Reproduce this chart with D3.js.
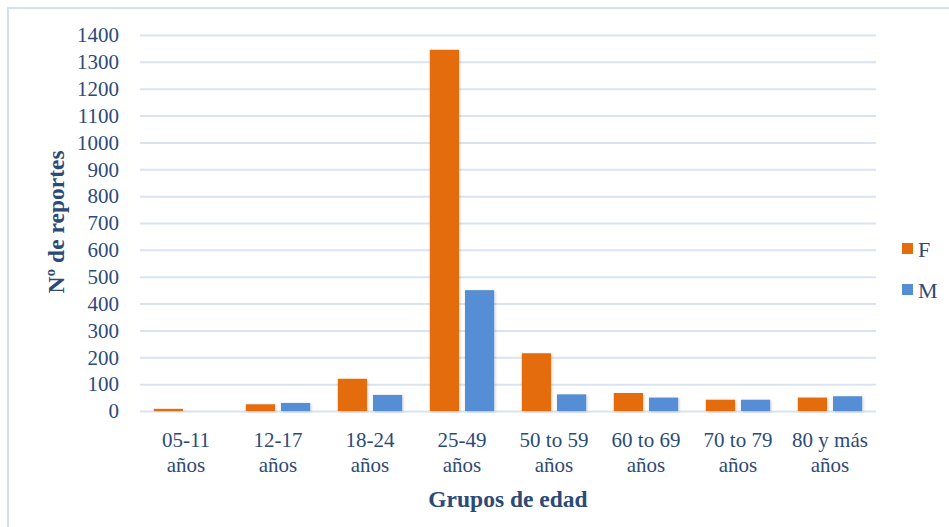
<!DOCTYPE html>
<html>
<head>
<meta charset="utf-8">
<script src="https://cdn.jsdelivr.net/npm/d3@7"></script>
<style>
  html, body { margin: 0; padding: 0; background: #fff; }
  svg { display: block; }
  text { font-family: "Liberation Serif", "DejaVu Serif", serif; fill: #2C4A78; }
</style>
</head>
<body>
<svg id="chart" width="949" height="527"></svg>
<script>
const categories = ["05-11 años", "12-17 años", "18-24 años", "25-49 años", "50 to 59 años", "60 to 69 años", "70 to 79 años", "80 y más años"];
const categoryLines = [["05-11", "años"], ["12-17", "años"], ["18-24", "años"], ["25-49", "años"], ["50 to 59", "años"], ["60 to 69", "años"], ["70 to 79", "años"], ["80 y más", "años"]];
const seriesNames = ["F", "M"];
const valuesF = [8, 25, 120, 1345, 215, 67, 42, 50];
const valuesM = [0, 30, 60, 450, 62, 50, 42, 55];
const yTicks = [0, 100, 200, 300, 400, 500, 600, 700, 800, 900, 1000, 1100, 1200, 1300, 1400];
const colors = { F: "#E46C0A", M: "#558ED5" };

(function () {
const svg = d3.select("#chart");
const W = 949, H = 527;
const mLeft = 140, mRight = 876, mTop = 35, mBottom = 411;

// outer border
svg.append("rect").attr("x", 8).attr("y", 8).attr("width", W + 20).attr("height", H + 20)
  .attr("fill", "none").attr("stroke", "#D3E0F1").attr("stroke-width", 2);

const x0 = d3.scaleBand().domain(categories).range([mLeft, mRight]).paddingInner(0.3).paddingOuter(0.15);
const x1 = d3.scaleBand().domain(seriesNames).range([0, x0.bandwidth()]).paddingInner(0.17);
const y = d3.scaleLinear().domain([0, 1400]).range([mBottom, mTop]);

// gridlines
const yAxis = d3.axisLeft(y).tickValues(yTicks).tickSize(-(mRight - mLeft)).tickPadding(21).tickFormat(d3.format("d"));
const gy = svg.append("g").attr("transform", `translate(${mLeft},0)`).call(yAxis);
gy.select(".domain").remove();
gy.selectAll(".tick line").attr("stroke", "#DAE4F1").attr("stroke-width", 2);
gy.selectAll(".tick text").attr("font-size", 21).attr("fill", "#2C4A78")
  .style("font-family", '"Liberation Serif", serif');

// shadow filter
const defs = svg.append("defs");
const f = defs.append("filter").attr("id", "sh").attr("x", "-20%").attr("y", "-20%").attr("width", "150%").attr("height", "150%");
f.append("feDropShadow").attr("dx", 1).attr("dy", 1).attr("stdDeviation", 1.5).attr("flood-color", "#000").attr("flood-opacity", 0.18);

const data = categories.map((c, i) => ({ cat: c, F: valuesF[i], M: valuesM[i] }));
const groups = svg.append("g").selectAll("g").data(data).join("g")
  .attr("transform", d => `translate(${x0(d.cat)},0)`);
groups.selectAll("rect").data(d => seriesNames.map(k => ({ key: k, value: d[k] }))).join("rect")
  .attr("x", d => x1(d.key))
  .attr("y", d => y(d.value))
  .attr("width", x1.bandwidth())
  .attr("height", d => mBottom - y(d.value))
  .attr("fill", d => colors[d.key])
  .attr("filter", "url(#sh)");

// x labels
const xl = svg.append("g");
categories.forEach((c, i) => {
  const cx = x0(c) + x0.bandwidth() / 2;
  const t = xl.append("text").attr("x", cx).attr("y", 447).attr("text-anchor", "middle").attr("font-size", 21);
  t.append("tspan").attr("x", cx).text(categoryLines[i][0]);
  t.append("tspan").attr("x", cx).attr("dy", 25).text(categoryLines[i][1]);
});

// axis titles
svg.append("text").attr("x", (mLeft + mRight) / 2 + 0).attr("y", 507).attr("text-anchor", "middle")
  .attr("font-size", 23.5).attr("font-weight", "bold").text("Grupos de edad");
svg.append("text").attr("transform", `translate(64,${(mTop + mBottom) / 2 - 1}) rotate(-90)`)
  .attr("text-anchor", "middle").attr("font-size", 23.5).attr("font-weight", "bold").text("Nº de reportes");

// legend
const leg = svg.append("g");
seriesNames.forEach((k, i) => {
  const cy = 249 + i * 41;
  leg.append("rect").attr("x", 902).attr("y", cy - 6).attr("width", 11).attr("height", 11).attr("fill", colors[k]);
  leg.append("text").attr("x", 918).attr("y", cy).attr("dy", "0.35em").attr("font-size", 22).text(k);
});
})();
</script>
</body>
</html>
